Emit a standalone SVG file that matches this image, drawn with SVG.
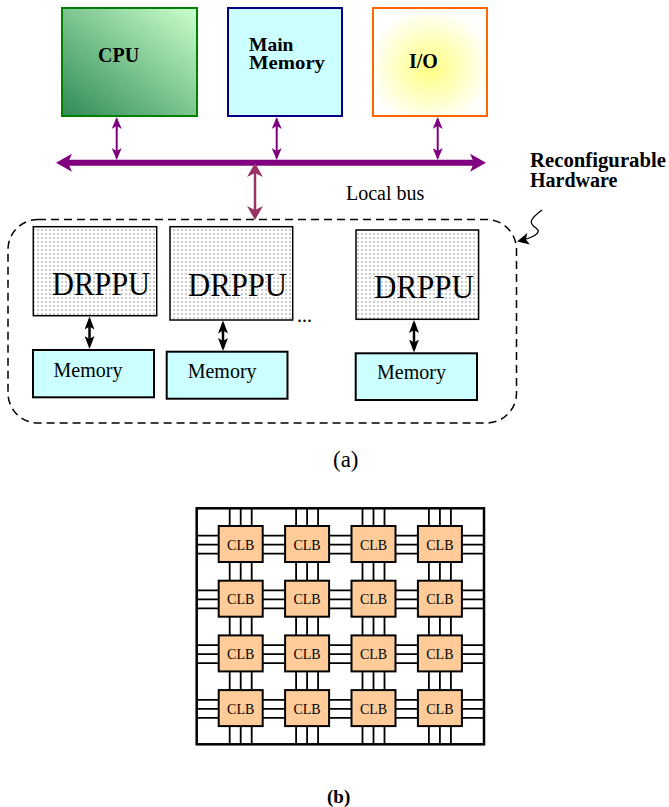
<svg xmlns="http://www.w3.org/2000/svg" width="669" height="807" viewBox="0 0 669 807">
<style>
.serif{font-family:"Liberation Serif","Times New Roman",serif;fill:#000}
.b{font-weight:bold}
.drppu{fill:url(#dots);stroke:#000;stroke-width:1.5}
.dtxt{font-size:34px}
.mem{fill:#ccffff;stroke:#000;stroke-width:2}
.mtxt{font-size:20px}
.clb{fill:#ffcc99;stroke:#000;stroke-width:2}
.ctxt{font-size:14px;text-anchor:middle}
</style>
<defs>
<linearGradient id="gCpu" x1="0" y1="1" x2="1" y2="0">
<stop offset="0" stop-color="#2e8b57"/>
<stop offset="1" stop-color="#ccffcc"/>
</linearGradient>
<radialGradient id="gIo" cx="0.5" cy="0.55" r="0.55">
<stop offset="0" stop-color="#ffff80"/>
<stop offset="1" stop-color="#ffffff"/>
</radialGradient>
<pattern id="dots" width="4" height="4" patternUnits="userSpaceOnUse">
<rect width="4" height="4" fill="#ffffff"/>
<rect x="1.5" y="1.5" width="1" height="1" fill="#333"/>
</pattern>
<marker id="mBus" markerUnits="userSpaceOnUse" viewBox="0 -9 16 18" markerWidth="16" markerHeight="18" refX="6" refY="0" orient="auto-start-reverse">
<path d="M0,-9 L16,0 L0,9 L4,0 z" fill="#800080"/>
</marker>
<marker id="mP" markerUnits="userSpaceOnUse" viewBox="0 -5 12 10" markerWidth="12" markerHeight="10" refX="10" refY="0" orient="auto-start-reverse">
<path d="M0,-5 L12,0 L0,5 L3,0 z" fill="#800080"/>
</marker>
<marker id="mM" markerUnits="userSpaceOnUse" viewBox="0 -8 14 16" markerWidth="14" markerHeight="16" refX="11" refY="0" orient="auto-start-reverse">
<path d="M0,-8 L14,0 L0,8 L4,0 z" fill="#993366"/>
</marker>
<marker id="mK" markerUnits="userSpaceOnUse" viewBox="0 -5 13 10" markerWidth="13" markerHeight="10" refX="10" refY="0" orient="auto-start-reverse">
<path d="M0,-5 L13,0 L0,5 L3,0 z" fill="#000"/>
</marker>
<marker id="mS" markerUnits="userSpaceOnUse" viewBox="0 -6 12 12" markerWidth="12" markerHeight="12" refX="10" refY="0" orient="auto">
<path d="M0,-6 L12,0 L0,6 L3,0 z" fill="#000"/>
</marker>
</defs>
<rect width="669" height="807" fill="#ffffff"/>

<g id="cpu">
<rect x="62" y="8" width="135" height="108" fill="url(#gCpu)" stroke="#008000" stroke-width="2"/>
<text class="serif b" x="98" y="62" font-size="20">CPU</text>
</g>
<g id="main-memory">
<rect x="228" y="8" width="114" height="108" fill="#ccffff" stroke="#000080" stroke-width="2"/>
<text class="serif b" x="249" y="50.5" font-size="19.5">Main</text>
<text class="serif b" x="249" y="69" font-size="19.5" textLength="76" lengthAdjust="spacingAndGlyphs">Memory</text>
</g>
<g id="io">
<rect x="373" y="8" width="114" height="108" fill="url(#gIo)" stroke="#ff6600" stroke-width="2"/>
<text class="serif b" x="409" y="68" font-size="20">I/O</text>
</g>

<g id="labels">
<text class="serif" x="346" y="200" font-size="20">Local bus</text>
<text class="serif b" x="530" y="167" font-size="20" textLength="136" lengthAdjust="spacingAndGlyphs">Reconfigurable</text>
<text class="serif b" x="530" y="187" font-size="20">Hardware</text>
<text class="serif" x="333" y="467" font-size="23">(a)</text>
<text class="serif b" x="327" y="803" font-size="19">(b)</text>
</g>

<g id="reconfigurable-hardware">
<rect x="8" y="219.5" width="508.5" height="203.5" rx="30" ry="30" fill="none" stroke="#000" stroke-width="1.5" stroke-dasharray="8 5"/>
</g>

<g id="drppu1">
<rect class="drppu" x="33.3" y="226.7" width="123.4" height="89"/>
<text class="serif dtxt" x="52" y="295" textLength="98" lengthAdjust="spacingAndGlyphs">DRPPU</text>
</g>
<g id="drppu2">
<rect class="drppu" x="170" y="226.7" width="122.7" height="93.3"/>
<text class="serif dtxt" x="188" y="296" textLength="99" lengthAdjust="spacingAndGlyphs">DRPPU</text>
</g>
<g id="drppu3">
<rect class="drppu" x="356" y="230" width="122.6" height="89.3"/>
<text class="serif dtxt" x="374" y="297.5" textLength="100" lengthAdjust="spacingAndGlyphs">DRPPU</text>
</g>
<g id="ellipsis">
<text class="serif" x="297" y="322" font-size="20">...</text>
</g>

<g id="memory1">
<rect class="mem" x="33" y="350" width="121" height="47.3"/>
<text class="serif mtxt" x="53.5" y="377">Memory</text>
</g>
<g id="memory2">
<rect class="mem" x="166.7" y="351.7" width="120.8" height="47"/>
<text class="serif mtxt" x="187.7" y="377.5">Memory</text>
</g>
<g id="memory3">
<rect class="mem" x="355.7" y="353.3" width="121.3" height="46.7"/>
<text class="serif mtxt" x="377" y="379">Memory</text>
</g>

<g id="connectors" fill="none">
<line x1="66" y1="162.7" x2="476" y2="162.7" stroke="#800080" stroke-width="6" marker-start="url(#mBus)" marker-end="url(#mBus)"/>
<line x1="116.7" y1="119" x2="116.7" y2="158" stroke="#800080" stroke-width="2" marker-start="url(#mP)" marker-end="url(#mP)"/>
<line x1="276.7" y1="119" x2="276.7" y2="158" stroke="#800080" stroke-width="2" marker-start="url(#mP)" marker-end="url(#mP)"/>
<line x1="437.7" y1="119" x2="437.7" y2="158" stroke="#800080" stroke-width="2" marker-start="url(#mP)" marker-end="url(#mP)"/>
<line x1="255" y1="166" x2="255" y2="217" stroke="#993366" stroke-width="2.5" marker-start="url(#mM)" marker-end="url(#mM)"/>
<line x1="89.5" y1="319.5" x2="89.5" y2="346" stroke="#000" stroke-width="2.5" marker-start="url(#mK)" marker-end="url(#mK)"/>
<line x1="223" y1="323.5" x2="223" y2="348" stroke="#000" stroke-width="2.5" marker-start="url(#mK)" marker-end="url(#mK)"/>
<line x1="414" y1="323" x2="414" y2="349.5" stroke="#000" stroke-width="2.5" marker-start="url(#mK)" marker-end="url(#mK)"/>
<path d="M542,210 C530,219 528,223 536,228 C543,233 532,238 519,241" stroke="#000" stroke-width="1.3" marker-end="url(#mS)"/>
</g>

<g id="fpga">
<rect x="196.7" y="508.3" width="287.3" height="236" fill="#ffffff" stroke="#000" stroke-width="2.5"/>
<path fill="none" stroke="#000" stroke-width="1.8" d="M229.7,508.3V744.3M240.7,508.3V744.3M251.7,508.3V744.3M296.1,508.3V744.3M307.1,508.3V744.3M318.1,508.3V744.3M362.5,508.3V744.3M373.5,508.3V744.3M384.5,508.3V744.3M428.9,508.3V744.3M439.9,508.3V744.3M450.9,508.3V744.3M196.7,535.7H484M196.7,544.7H484M196.7,553.7H484M196.7,590.4H484M196.7,599.4H484M196.7,608.4H484M196.7,645.1H484M196.7,654.1H484M196.7,663.1H484M196.7,699.8H484M196.7,708.8H484M196.7,717.8H484"/>
</g>

<g id="clb-r1c1"><rect class="clb" x="218.7" y="526" width="44" height="36"/><text class="serif ctxt" x="240.7" y="549.5">CLB</text></g>
<g id="clb-r1c2"><rect class="clb" x="285.1" y="526" width="44" height="36"/><text class="serif ctxt" x="307.1" y="549.5">CLB</text></g>
<g id="clb-r1c3"><rect class="clb" x="351.5" y="526" width="44" height="36"/><text class="serif ctxt" x="373.5" y="549.5">CLB</text></g>
<g id="clb-r1c4"><rect class="clb" x="417.9" y="526" width="44" height="36"/><text class="serif ctxt" x="439.9" y="549.5">CLB</text></g>
<g id="clb-r2c1"><rect class="clb" x="218.7" y="580.7" width="44" height="36"/><text class="serif ctxt" x="240.7" y="604.2">CLB</text></g>
<g id="clb-r2c2"><rect class="clb" x="285.1" y="580.7" width="44" height="36"/><text class="serif ctxt" x="307.1" y="604.2">CLB</text></g>
<g id="clb-r2c3"><rect class="clb" x="351.5" y="580.7" width="44" height="36"/><text class="serif ctxt" x="373.5" y="604.2">CLB</text></g>
<g id="clb-r2c4"><rect class="clb" x="417.9" y="580.7" width="44" height="36"/><text class="serif ctxt" x="439.9" y="604.2">CLB</text></g>
<g id="clb-r3c1"><rect class="clb" x="218.7" y="635.4" width="44" height="36"/><text class="serif ctxt" x="240.7" y="658.9">CLB</text></g>
<g id="clb-r3c2"><rect class="clb" x="285.1" y="635.4" width="44" height="36"/><text class="serif ctxt" x="307.1" y="658.9">CLB</text></g>
<g id="clb-r3c3"><rect class="clb" x="351.5" y="635.4" width="44" height="36"/><text class="serif ctxt" x="373.5" y="658.9">CLB</text></g>
<g id="clb-r3c4"><rect class="clb" x="417.9" y="635.4" width="44" height="36"/><text class="serif ctxt" x="439.9" y="658.9">CLB</text></g>
<g id="clb-r4c1"><rect class="clb" x="218.7" y="690.1" width="44" height="36"/><text class="serif ctxt" x="240.7" y="713.6">CLB</text></g>
<g id="clb-r4c2"><rect class="clb" x="285.1" y="690.1" width="44" height="36"/><text class="serif ctxt" x="307.1" y="713.6">CLB</text></g>
<g id="clb-r4c3"><rect class="clb" x="351.5" y="690.1" width="44" height="36"/><text class="serif ctxt" x="373.5" y="713.6">CLB</text></g>
<g id="clb-r4c4"><rect class="clb" x="417.9" y="690.1" width="44" height="36"/><text class="serif ctxt" x="439.9" y="713.6">CLB</text></g>
</svg>
